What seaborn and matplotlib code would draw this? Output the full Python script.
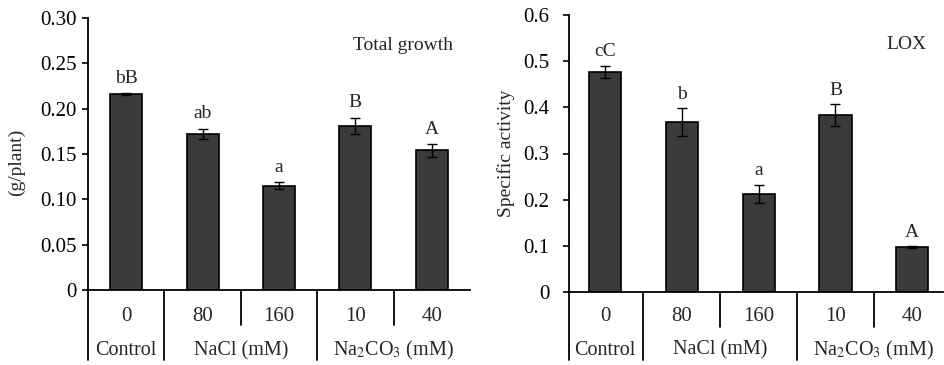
import numpy as np
import pandas as pd
import matplotlib
matplotlib.use("Agg")
import matplotlib.pyplot as plt
import matplotlib.transforms as mtransforms
import seaborn as sns

# === Data ===
conc = ["0", "80", "160", "10", "40"]
growth = [0.216, 0.172, 0.115, 0.181, 0.154]
growth_err = [0.001, 0.006, 0.004, 0.009, 0.007]
growth_letters = ["bB", "ab", "a", "B", "A"]

lox = [0.477, 0.368, 0.212, 0.383, 0.097]
lox_err = [0.013, 0.030, 0.020, 0.024, 0.002]
lox_letters = ["cC", "b", "a", "B", "A"]

groups = ["Control", "NaCl (mM)", r"Na$_2$CO$_3$ (mM)"]
group_members = [[0], [1, 2], [3, 4]]

growth_ticks = [0, 0.05, 0.10, 0.15, 0.20, 0.25, 0.30]
growth_ticklabels = ["0", "0.05", "0.10", "0.15", "0.20", "0.25", "0.30"]
lox_ticks = [0, 0.1, 0.2, 0.3, 0.4, 0.5, 0.6]
lox_ticklabels = ["0", "0.1", "0.2", "0.3", "0.4", "0.5", "0.6"]

# === Style ===
sns.set_style("ticks")
plt.rcParams["font.family"] = ["Liberation Serif", "DejaVu Serif"]
plt.rcParams["mathtext.fontset"] = "stix"

fig = plt.figure(figsize=(9.44, 3.65), dpi=100)


def draw_panel(ax, values, errs, letters, ticks, ticklabels, ylabel, title,
               xlim, row1_y, row2_y, short_y, bottom_y, title_xy, ylabel_xy,
               tick_pad, letter_off):
    df = pd.DataFrame({"conc": conc, "value": values})
    sns.barplot(data=df, x="conc", y="value", order=conc, color="#3a3a3a",
                edgecolor="black", linewidth=1.2, width=0.42, saturation=1,
                errorbar=None, ax=ax)
    ax.errorbar(np.arange(len(values)), values, yerr=errs, fmt="none",
                ecolor="black", elinewidth=1, capsize=3.5, capthick=1)
    for i, (v, e, lab) in enumerate(zip(values, errs, letters)):
        ax.annotate(lab, (i, v + e), xytext=(0, letter_off), textcoords="offset points",
                    ha="center", va="bottom", fontsize=14)

    ax.set_xlim(*xlim)
    ax.set_ylim(ticks[0], ticks[-1])
    ax.set_yticks(ticks)
    ax.set_yticklabels(ticklabels, fontsize=15)
    ax.set_xticks([])
    ax.set_xlabel("")
    ax.set_ylabel(ylabel, fontsize=14)
    ax.yaxis.set_label_coords(*ylabel_xy)
    ax.tick_params(axis="y", direction="out", length=4, width=1.2, pad=tick_pad,
                   color="black", labelcolor="black")
    for s in ["top", "right"]:
        ax.spines[s].set_visible(False)
    for s in ["left", "bottom"]:
        ax.spines[s].set_linewidth(1.3)
        ax.spines[s].set_color("black")

    ax.text(title_xy[0], title_xy[1], title, transform=ax.transAxes,
            ha="right", va="center", fontsize=14)

    # category table under the axis
    trans = mtransforms.blended_transform_factory(ax.transData, ax.transAxes)
    x0 = xlim[0]
    ax.plot([x0, x0], [0, bottom_y], transform=trans, color="black", lw=1.3, clip_on=False)
    for i, c in enumerate(conc):
        ax.text(i, row1_y, c, transform=trans, ha="center", va="center", fontsize=15)
    for g, members in zip(groups, group_members):
        ax.text(np.mean(members), row2_y, g, transform=trans, ha="center",
                va="center", fontsize=14.5)
        right = members[-1] + 0.5
        if right < xlim[1]:
            ax.plot([right, right], [0, bottom_y], transform=trans, color="black",
                    lw=1.3, clip_on=False)
        for m in members[:-1]:
            ax.plot([m + 0.5, m + 0.5], [0, short_y], transform=trans,
                    color="black", lw=1.3, clip_on=False)


ax1 = fig.add_axes([88 / 944, 75 / 365, 382 / 944, 272 / 365])
draw_panel(ax1, growth, growth_err, growth_letters, growth_ticks,
           growth_ticklabels, "(g/plant)", "Total growth",
           xlim=(-0.5, 4.5), row1_y=-0.097, row2_y=-0.222, short_y=-0.13,
           bottom_y=-0.257, title_xy=(0.956, 0.90), ylabel_xy=(-0.165, 0.47),
           tick_pad=4, letter_off=4.5)

ax2 = fig.add_axes([569 / 944, 73 / 365, 374 / 944, 277 / 365])
draw_panel(ax2, lox, lox_err, lox_letters, lox_ticks, lox_ticklabels,
           "Specific activity", "LOX",
           xlim=(-0.47, 4.4), row1_y=-0.089, row2_y=-0.21, short_y=-0.126,
           bottom_y=-0.245, title_xy=(0.957, 0.892), ylabel_xy=(-0.145, 0.5),
           tick_pad=10, letter_off=4)

plt.savefig("out.png", dpi=100)
plt.close()
